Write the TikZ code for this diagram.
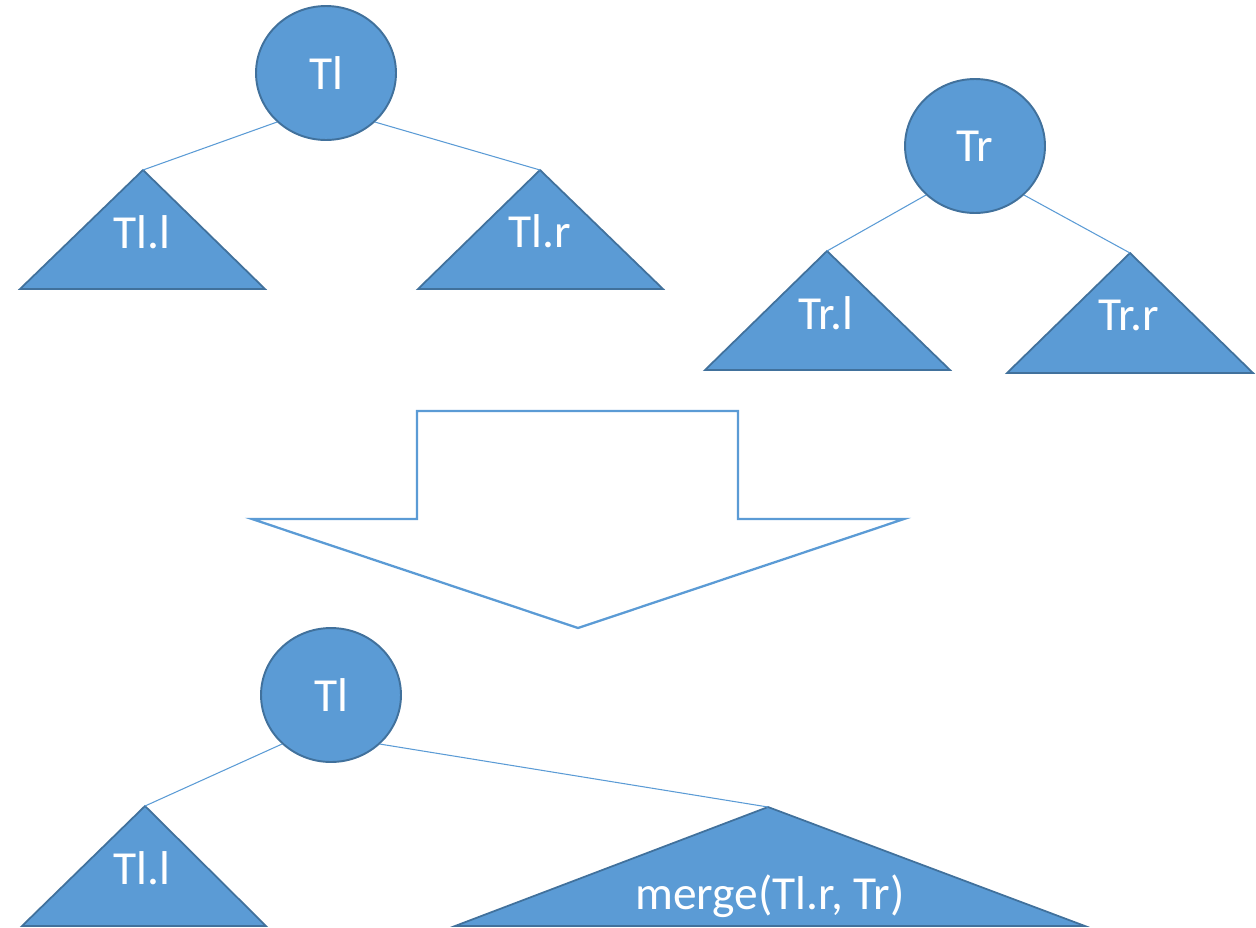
\documentclass[tikz,border=0pt]{standalone}
\usepackage{fontspec}
\setmainfont{Carlito}
\usetikzlibrary{shapes.geometric}

\definecolor{nodefill}{HTML}{5B9BD5}
\definecolor{nodeline}{HTML}{41719C}

\begin{document}
\begin{tikzpicture}[
  x=0.02cm, y=-0.02cm,
  vtx/.style={ellipse, draw=nodeline, fill=nodefill, line width=1.1pt,
              minimum width=2.8cm, minimum height=2.68cm, inner sep=0pt,
              text=white, font=\fontsize{27}{32}\selectfont},
  subtree/.style={draw=nodeline, fill=nodefill, line width=1pt},
  lbl/.style={text=white, font=\fontsize{27}{32}\selectfont},
  edge/.style={draw=nodefill, line width=0.6pt},
  bigarrow/.style={draw=nodefill, line width=1.3pt},
]
\useasboundingbox (0,0) rectangle (1256,927);

% two trees before the merge
\node[vtx] (tl) at (326,73) {Tl};
\draw[subtree] (20,289) -- (143,170) coordinate (tll) -- (265,289) -- cycle;
\node[lbl] (tll-lbl) at (142,232) {Tl.l};
\draw[subtree] (418,289) -- (540,170) coordinate (tlr) -- (663,289) -- cycle;
\node[lbl] (tlr-lbl) at (540,231) {Tl.r};
\draw[edge] (tl.-135) -- (tll);
\draw[edge] (tl.-45) -- (tlr);

\node[vtx] (tr) at (975,146) {Tr};
\draw[subtree] (705,370) -- (827,251) coordinate (trl) -- (950,370) -- cycle;
\node[lbl] (trl-lbl) at (826,313) {Tr.l};
\draw[subtree] (1007,373) -- (1130,253) coordinate (trr) -- (1253,373) -- cycle;
\node[lbl] (trr-lbl) at (1129,315) {Tr.r};
\draw[edge] (tr.-135) -- (trl);
\draw[edge] (tr.-45) -- (trr);

% block arrow
\draw[bigarrow] (417,411) -- (738,411) -- (738,519) -- (904,519)
  -- (578,628) -- (252,519) -- (417,519) -- cycle;

% result of the merge
\node[vtx] (tl2) at (331,695) {Tl};
\draw[subtree] (22,926) -- (145,806) coordinate (tll2) -- (266,926) -- cycle;
\node[lbl] (tll2-lbl) at (142,868) {Tl.l};
\draw[subtree] (455,926) -- (768,807) coordinate (mrg) -- (1085,926) -- cycle;
\node[lbl] (mrg-lbl) at (770,896) {merge(Tl.r, Tr)};
\draw[edge] (tl2.-135) -- (tll2);
\draw[edge] (tl2.-45) -- (mrg);
\end{tikzpicture}
\end{document}
